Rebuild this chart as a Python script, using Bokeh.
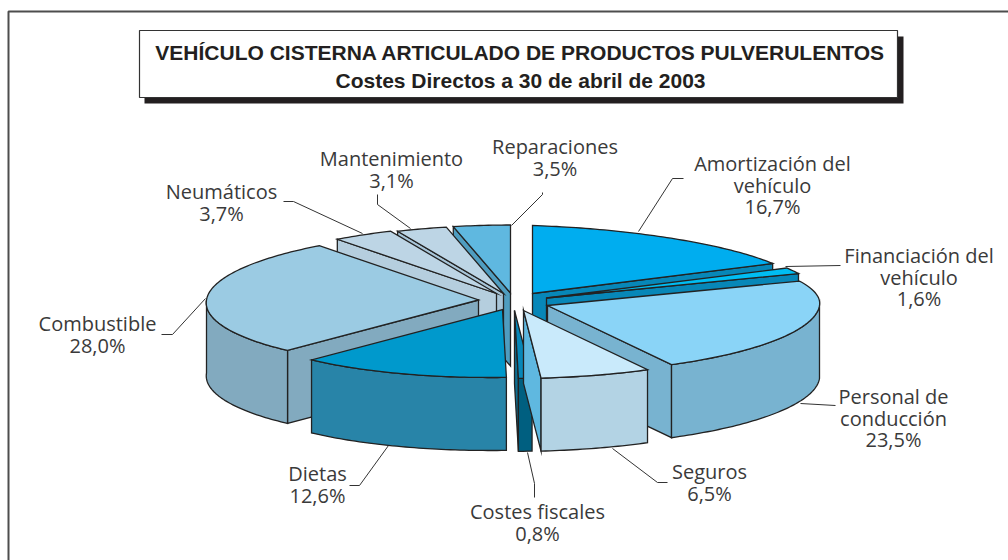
import math
from bokeh.plotting import figure
from bokeh.models import Range1d, ColumnDataSource
from bokeh.core.properties import value
from bokeh.embed import file_html
from bokeh.resources import INLINE

# --- data -----------------------------------------------------------------
categories = ["Amortización del\nvehículo", "Financiación del\nvehículo", "Personal de\nconducción",
              "Seguros", "Costes fiscales", "Dietas", "Combustible",
              "Neumáticos", "Mantenimiento", "Reparaciones"]
shares = [16.7, 1.6, 23.5, 6.5, 0.8, 12.6, 28.0, 3.7, 3.1, 3.5]
title_lines = ["VEHÍCULO CISTERNA ARTICULADO DE PRODUCTOS PULVERULENTOS",
               "Costes Directos a 30 de abril de 2003"]

# --- styles ---------------------------------------------------------------
top_colors = ["#00ADEF", "#00BDF2", "#8AD4F7", "#C9EAFB", "#0787B8",
              "#0099CC", "#9BCBE3", "#BDD5E5", "#BDD5E5", "#5FB8E0"]
wall_colors = ["#0787B8", "#0787B8", "#78B3D0", "#B3D3E4", "#005F80",
               "#2884A8", "#82AABF", "#B5CEDE", "#B5CEDE", "#4F9DC0"]
cut_colors = ["#0787B8", "#0787B8", "#78B3D0", "#5FB8E0", "#0F6F92",
              "#2884A8", "#82AABF", "#B5CEDE", "#A8C5D8", "#4F9DC0"]

# --- layout of the exploded pie ------------------------------------------
RX, RY, DEPTH = 272.0, 68.0, 73.0
tips_x = [532, 546, 547, 523, 514, 502, 478, 496, 503, 510]
tips_y = [293, 297.5, 305, 310, 310, 309, 299.5, 293, 293, 292.5]
draw_order = [9, 8, 7, 0, 1, 6, 2, 5, 4, 3]
label_x = [772, 918.5, 893, 709, 537, 317, 97, 221, 391, 554.5]
label_y = [163, 255, 396, 471, 511, 473, 323, 191, 158, 146]
line_step = 21.5
leaders = [
    ([683, 672, 638], [178, 178, 231]),
    ([840, 785], [265, 266]),
    ([835, 800], [405, 403]),
    ([667, 657, 612], [482, 482, 448]),
    ([534, 534, 527], [497, 483, 452]),
    ([349, 359, 388], [485, 485, 445]),
    ([161, 172, 205], [334, 334, 298]),
    ([283, 293, 362], [201, 201, 233]),
    ([377, 377, 410], [194, 204, 228]),
    ([542, 542, 511], [192, 194, 225]),
]


def rim(cx, cy, deg):
    """Point of the slice rim at a clockwise angle from 12 o'clock, with the view's slight skew."""
    a = math.radians(deg)
    c = math.cos(a)
    skew = -11.5 * (-c) if c < 0 else 5.0 * abs(math.sin(2 * a))
    lift = 4.5 * math.sin(2 * a) if 0 < deg < 90 else 0.0
    return cx + RX * math.sin(a) + skew, cy - RY * c + lift


def arc(cx, cy, a0, a1):
    n = max(2, int(abs(a1 - a0)) + 1)
    pts = [rim(cx, cy, a0 + (a1 - a0) * i / n) for i in range(n + 1)]
    return [q[0] for q in pts], [q[1] for q in pts]


starts, run = [], 0.0
for s in shares:
    starts.append(run)
    run += s * 3.6

xs, ys, fills = [], [], []
for i in draw_order:
    a0, a1 = starts[i], starts[i] + shares[i] * 3.6
    cx, cy = tips_x[i], tips_y[i]

    def cut(deg):
        ox, oy = rim(cx, cy, deg)
        xs.append([cx, ox, ox, cx])
        ys.append([cy, oy, oy + DEPTH, cy + DEPTH])
        fills.append(cut_colors[i])

    if 180 < a0 < 360:
        cut(a0)
    if 0 < a1 < 180:
        cut(a1)

    w0, w1 = max(a0, 90), min(a1, 270)
    if w1 > w0:
        ax, ay = arc(cx, cy, w0, w1)
        xs.append(ax + ax[::-1])
        ys.append(ay + [v + DEPTH for v in ay[::-1]])
        fills.append(wall_colors[i])

    ax, ay = arc(cx, cy, a0, a1)
    xs.append([cx] + ax)
    ys.append([cy] + ay)
    fills.append(top_colors[i])

p = figure(width=1008, height=560, x_range=Range1d(0, 1008), y_range=Range1d(560, 0),
           output_backend="svg", toolbar_location=None, min_border=0)
p.axis.visible = False
p.grid.visible = False
p.outline_line_color = None

# outer frame
p.line([8, 8, 1008], [560, 11, 11], line_color="#4d4d4d", line_width=2)

# title box with its shadow
p.quad(left=[144], right=[903], top=[36], bottom=[103], fill_color="#231F20", line_color=None)
p.quad(left=[139], right=[897], top=[30], bottom=[97], fill_color="white", line_color="#333333", line_width=1.2)
p.text(x=[520, 520], y=[52, 80], text=title_lines, text_font=value("Liberation Sans"),
       text_font_style="bold", text_font_size="21px", text_color="#231F20",
       text_align="center", text_baseline="middle")

# leaders
for lx, ly in leaders:
    p.line(lx, ly, line_color="#333333", line_width=1)

# pie
p.patches(xs="xs", ys="ys", fill_color="fill", line_color="#222222", line_width=1.3,
          line_join="miter", source=ColumnDataSource(dict(xs=xs, ys=ys, fill=fills)))

# labels
tx, ty, tt = [], [], []
for i, name in enumerate(categories):
    rows = name.split("\n") + [f"{shares[i]:.1f}%".replace(".", ",")]
    for k, row in enumerate(rows):
        tx.append(label_x[i])
        ty.append(label_y[i] + k * line_step)
        tt.append(row)
p.text(x=tx, y=ty, text=tt, text_font=value("Open Sans"), text_font_size="20px",
       text_color="#3a3a3a", text_align="center", text_baseline="middle")

open("out.html", "w").write(file_html(p, INLINE))
